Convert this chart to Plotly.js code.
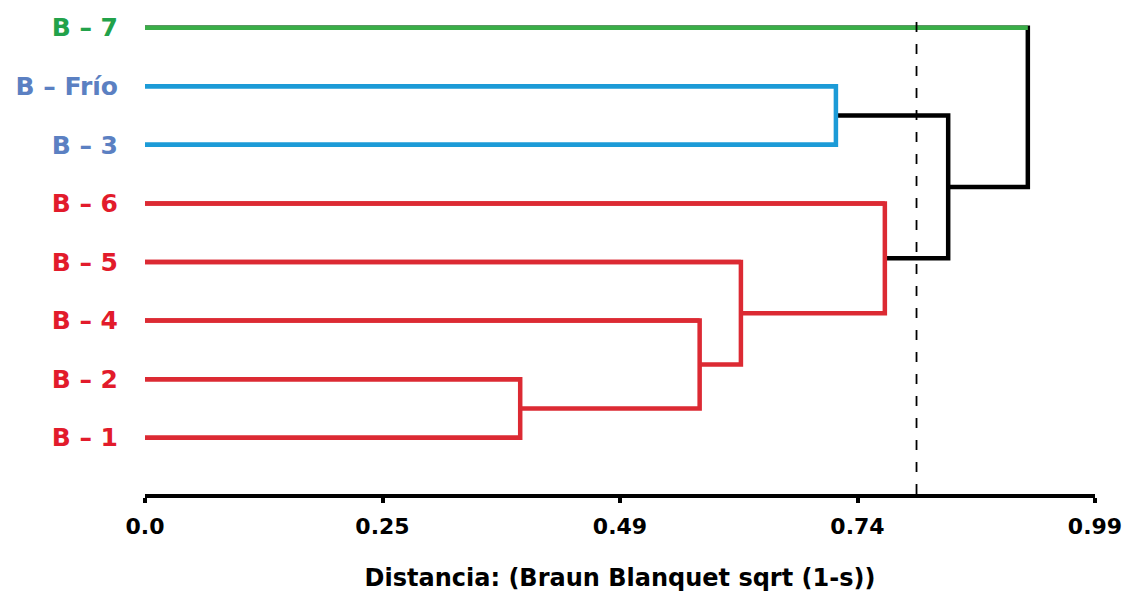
<!DOCTYPE html>
<html>
<head>
<meta charset="utf-8">
<script src="https://cdn.plot.ly/plotly-3.0.1.min.js"></script>
<style>html,body{margin:0;padding:0;background:#fff;}#chart{width:1130px;height:600px;}</style>
</head>
<body>
<div id="chart"></div>
<script>
// Leaves (bottom to top)
const leafLabels = ["B – 1", "B – 2", "B – 4", "B – 5", "B – 6", "B – 3", "B – Frío", "B – 7"];
const leafGroup  = ["red", "red", "red", "red", "red", "blue", "blue", "green"];
// Merges: node id = leaves.length + index
const mergeLeft   = [0, 8, 9, 10, 5, 11, 13];
const mergeRight  = [1, 2, 3, 4, 6, 12, 7];
const mergeHeight = [0.391, 0.578, 0.621, 0.771, 0.720, 0.837, 0.920];
const mergeGroup  = ["red", "red", "red", "red", "blue", "black", "black"];
// Axis ticks
const tickVals = [0, 0.2475, 0.495, 0.7425, 0.99];
const tickText = ["0.0", "0.25", "0.49", "0.74", "0.99"];
const cutoff = 0.804;

const lineColor  = {red: "#dc2a33", blue: "#1c9bd7", green: "#3aae48", black: "#000000"};
const labelColor = {red: "#e21b2b", blue: "#5b80c2", green: "#22a24a"};

const n = leafLabels.length;
const nodeY = [], nodeH = [];
for (let i = 0; i < n; i++) { nodeY.push(i); nodeH.push(0); }
const parentH = new Array(n).fill(0);
mergeLeft.forEach((l, k) => {
  const r = mergeRight[k];
  nodeY.push((nodeY[l] + nodeY[r]) / 2);
  nodeH.push(mergeHeight[k]);
  if (l < n) parentH[l] = mergeHeight[k];
  if (r < n) parentH[r] = mergeHeight[k];
});

const paths = {black: {x: [], y: []}, red: {x: [], y: []}, blue: {x: [], y: []}, green: {x: [], y: []}};
mergeLeft.forEach((l, k) => {
  const r = mergeRight[k], H = mergeHeight[k], p = paths[mergeGroup[k]];
  p.x.push(nodeH[l], H, H, nodeH[r], null);
  p.y.push(nodeY[l], nodeY[l], nodeY[r], nodeY[r], null);
});
for (let i = 0; i < n; i++) {
  const p = paths[leafGroup[i]];
  p.x.push(0, parentH[i], null);
  p.y.push(i, i, null);
}

const traces = ["black", "red", "blue", "green"].map(c => ({
  type: "scatter", mode: "lines", x: paths[c].x, y: paths[c].y,
  line: {color: lineColor[c], width: 4.5}, hoverinfo: "skip", showlegend: false
}));

const layout = {
  width: 1130, height: 600,
  margin: {l: 145, r: 35, t: 10, b: 106},
  paper_bgcolor: "#ffffff", plot_bgcolor: "#ffffff",
  font: {family: "DejaVu Sans, Arial, sans-serif", color: "#000"},
  xaxis: {
    range: [0, 0.99], tickmode: "array", tickvals: tickVals, ticktext: tickText,
    showgrid: false, zeroline: false, showline: true, linecolor: "#000", linewidth: 4,
    ticks: "outside", ticklen: 5, tickwidth: 4, tickcolor: "#000", ticklabelstandoff: 5,
    tickfont: {size: 22, weight: "bold", color: "#000"},
    title: {text: "Distancia: (Braun Blanquet sqrt (1-s))", font: {size: 24, weight: "bold", color: "#000"}, standoff: 32}
  },
  yaxis: {
    range: [-0.961, 7.302], tickmode: "array",
    tickvals: leafLabels.map((_, i) => i),
    ticktext: leafLabels.map((t, i) => '<span style="color:' + labelColor[leafGroup[i]] + '">' + t + '</span>'),
    showgrid: false, zeroline: false, showline: false,
    ticks: "outside", ticklen: 21, tickcolor: "rgba(0,0,0,0)",
    tickfont: {size: 25, weight: "bold"}
  },
  shapes: [{
    type: "line", xref: "x", yref: "paper", x0: cutoff, x1: cutoff, y0: 0, y1: 1,
    line: {color: "#000", width: 1.8, dash: "10px,12px"}
  }]
};

Plotly.newPlot("chart", traces, layout, {displayModeBar: false, staticPlot: true});
</script>
</body>
</html>
